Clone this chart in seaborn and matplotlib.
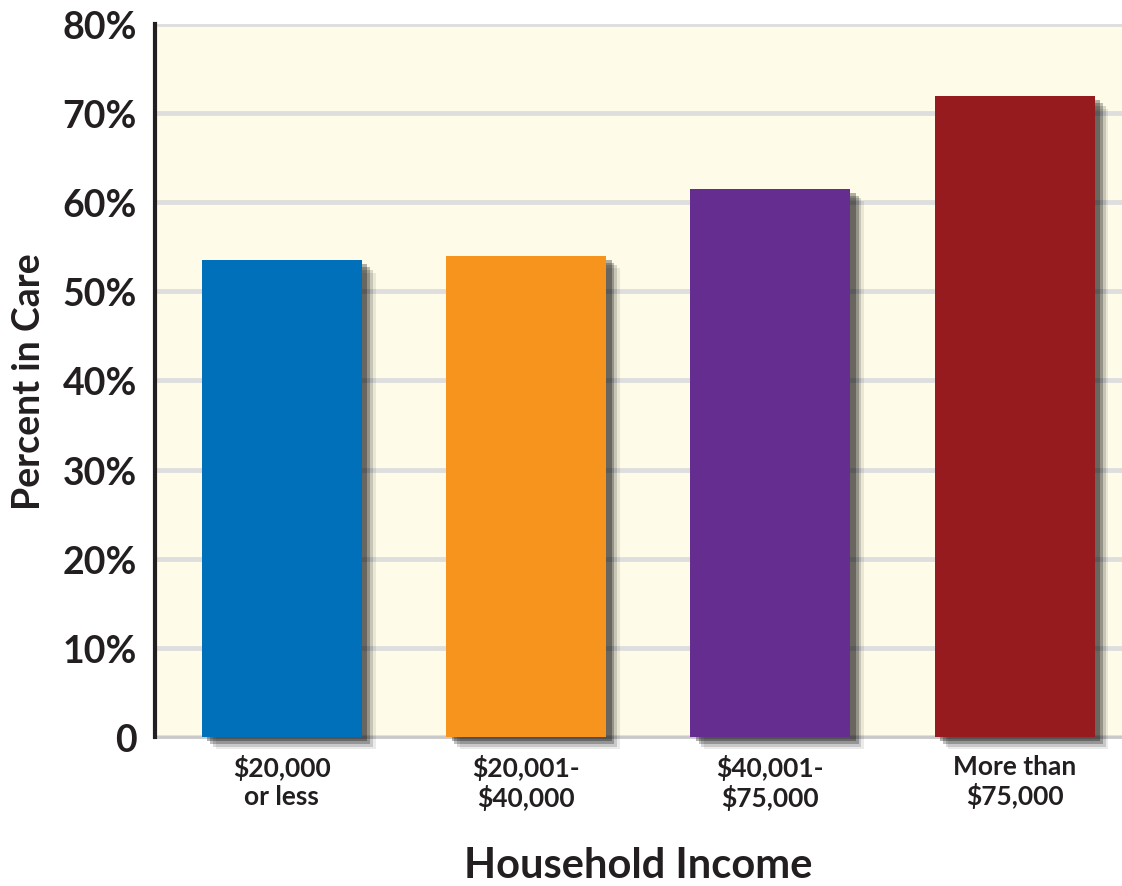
import matplotlib
matplotlib.use("Agg")
import matplotlib.pyplot as plt
import matplotlib.patheffects as pe
import seaborn as sns
import pandas as pd

categories = ["$20,000\nor less", "$20,001-\n$40,000", "$40,001-\n$75,000", "More than\n$75,000"]
values = [53.5, 54.0, 61.5, 71.9]
colors = ["#0070BA", "#F7941E", "#662D91", "#961B1E"]
yticks = [0, 10, 20, 30, 40, 50, 60, 70, 80]
ytick_labels = ["0", "10%", "20%", "30%", "40%", "50%", "60%", "70%", "80%"]

sns.set_theme(style="white")
plt.rcParams['font.family'] = ['Lato', 'DejaVu Sans']
plt.rcParams['font.weight'] = 'bold'

df = pd.DataFrame({"income": categories, "pct": values})

fig = plt.figure(figsize=(11.22, 8.87), dpi=100)
ax = fig.add_axes([0.138, 0.168, 0.862, 0.804])
ax.set_facecolor("#FEFCE8")

sns.barplot(data=df, x="income", y="pct", hue="income", palette=colors,
            legend=False, width=0.655, ax=ax, saturation=1, zorder=3)

shadow = [
    pe.SimplePatchShadow(offset=(10, -9), shadow_rgbFace="black", alpha=0.08),
    pe.SimplePatchShadow(offset=(8, -7), shadow_rgbFace="black", alpha=0.15),
    pe.SimplePatchShadow(offset=(6, -5), shadow_rgbFace="black", alpha=0.25),
    pe.SimplePatchShadow(offset=(4, -3), shadow_rgbFace="black", alpha=0.3),
    pe.Normal(),
]
for p in ax.patches:
    p.set_path_effects(shadow)
    p.set_clip_on(False)
    p.set_edgecolor("none")

ax.set_ylim(0, 80)
ax.set_xlim(-0.52, 3.44)
ax.set_yticks(yticks)
ax.set_yticklabels(ytick_labels, fontsize=27, fontweight="bold", color="#231F20")
ax.tick_params(axis="y", length=0, pad=13)
ax.tick_params(axis="x", length=0, pad=12, labelsize=19, labelcolor="#231F20")
for lab in ax.get_xticklabels():
    lab.set_fontweight("bold")
    lab.set_linespacing(1.2)

ax.yaxis.grid(True, color="#DEDEDE", linewidth=3.5, zorder=0)
ax.set_axisbelow(True)
for s in ["top", "right"]:
    ax.spines[s].set_visible(False)
ax.spines["left"].set_color("#231F20")
ax.spines["left"].set_linewidth(3)
ax.spines["left"].set_zorder(5)
ax.spines["bottom"].set_color("#C8C8C8")
ax.spines["bottom"].set_linewidth(2)

ax.set_xlabel("Household Income", fontsize=30, fontweight="bold", color="#231F20", labelpad=26)
ax.set_ylabel("Percent in Care", fontsize=27, fontweight="bold", color="#231F20", labelpad=12)

fig.savefig("out.png", dpi=100)
